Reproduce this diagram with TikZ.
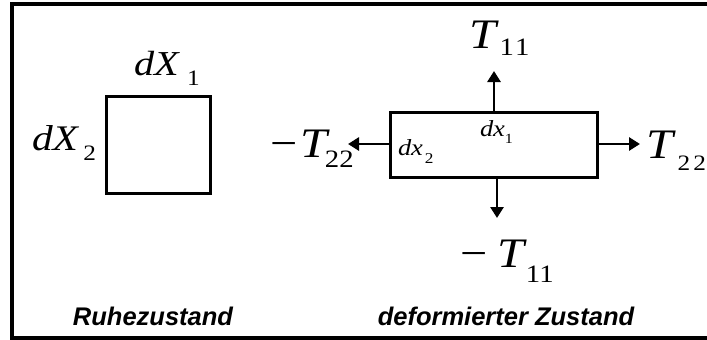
\documentclass[tikz,border=0pt]{standalone}
\usepackage{fontspec}
\setmainfont{Liberation Serif}[FakeStretch=1.15]
\setsansfont{Liberation Sans}
\usetikzlibrary{arrows.meta}
\newcommand\fs[1]{\fontsize{#1}{#1}\selectfont}
\begin{document}
\begin{tikzpicture}[x=1pt,y=-1pt,
  lbl/.style={anchor=base west,inner sep=0pt,outer sep=0pt},
  captext/.style={anchor=base,inner sep=0pt,font=\sffamily\bfseries\itshape\fs{25.5}},
  boxed/.style={draw,line width=3pt,inner sep=0pt},
  force/.style={line width=2.8pt,-{Triangle[length=11pt,width=13pt]}}]
\useasboundingbox (0,0) rectangle (707,340);
\begin{scope}
\clip (0,0) rectangle (707,340);
\draw[line width=4pt] (12,4) rectangle (730,338);
\end{scope}
% rest state
\node[boxed,minimum width=104pt,minimum height=97pt] (rest) at (158,144.5) {};
\node[lbl] (dX1) at (134,75) {\fs{35}\textit{dX}\kern7pt\raisebox{-10pt}{\fs{22}1}};
\node[lbl] (dX2) at (32,150) {\fs{36}\textit{dX}\kern4pt\raisebox{-10pt}{\fs{22}2}};
\node[captext] (ruhe) at (153,325) {Ruhezustand};
% deformed state
\node[boxed,minimum width=207pt,minimum height=65pt] (def) at (493.5,144.5) {};
\coordinate (tipN) at (494,71);
\coordinate (tipS) at (497,218);
\coordinate (tipW) at (348,144);
\coordinate (tipE) at (640,144);
\draw[force] (def.north -| tipN) -- (tipN);
\draw[force] (def.south -| tipS) -- (tipS);
\draw[force] (def.west |- tipW) -- (tipW);
\draw[force] (def.east |- tipE) -- (tipE);
\node[lbl] (tN) at (469,48) {\fs{42}\textit{T}\kern1pt\raisebox{-7pt}{\fs{25}1\kern1pt1}};
\node[lbl] (tS) at (460,267) {\fs{42}−\kern10pt\textit{T}\kern-1pt\raisebox{-15pt}{\fs{25}11}};
\node[lbl] (tW) at (270,157) {\fs{42}−\kern3pt\textit{T}\kern-5pt\raisebox{-10pt}{\fs{25}22}};
\node[lbl] (tE) at (646,158) {\fs{42}\textit{T}\kern2pt\raisebox{-12pt}{\fs{22}2\kern3pt2}};
\node[lbl] (dx1) at (480,136) {\fs{23}\textit{dx}\kern0pt\raisebox{-7pt}{\fs{14}1}};
\node[lbl] (dx2) at (398,155) {\fs{23}\textit{dx}\kern2pt\raisebox{-8pt}{\fs{15}2}};
\node[captext] (defz) at (506,325) {deformierter Zustand};
\end{tikzpicture}
\end{document}
